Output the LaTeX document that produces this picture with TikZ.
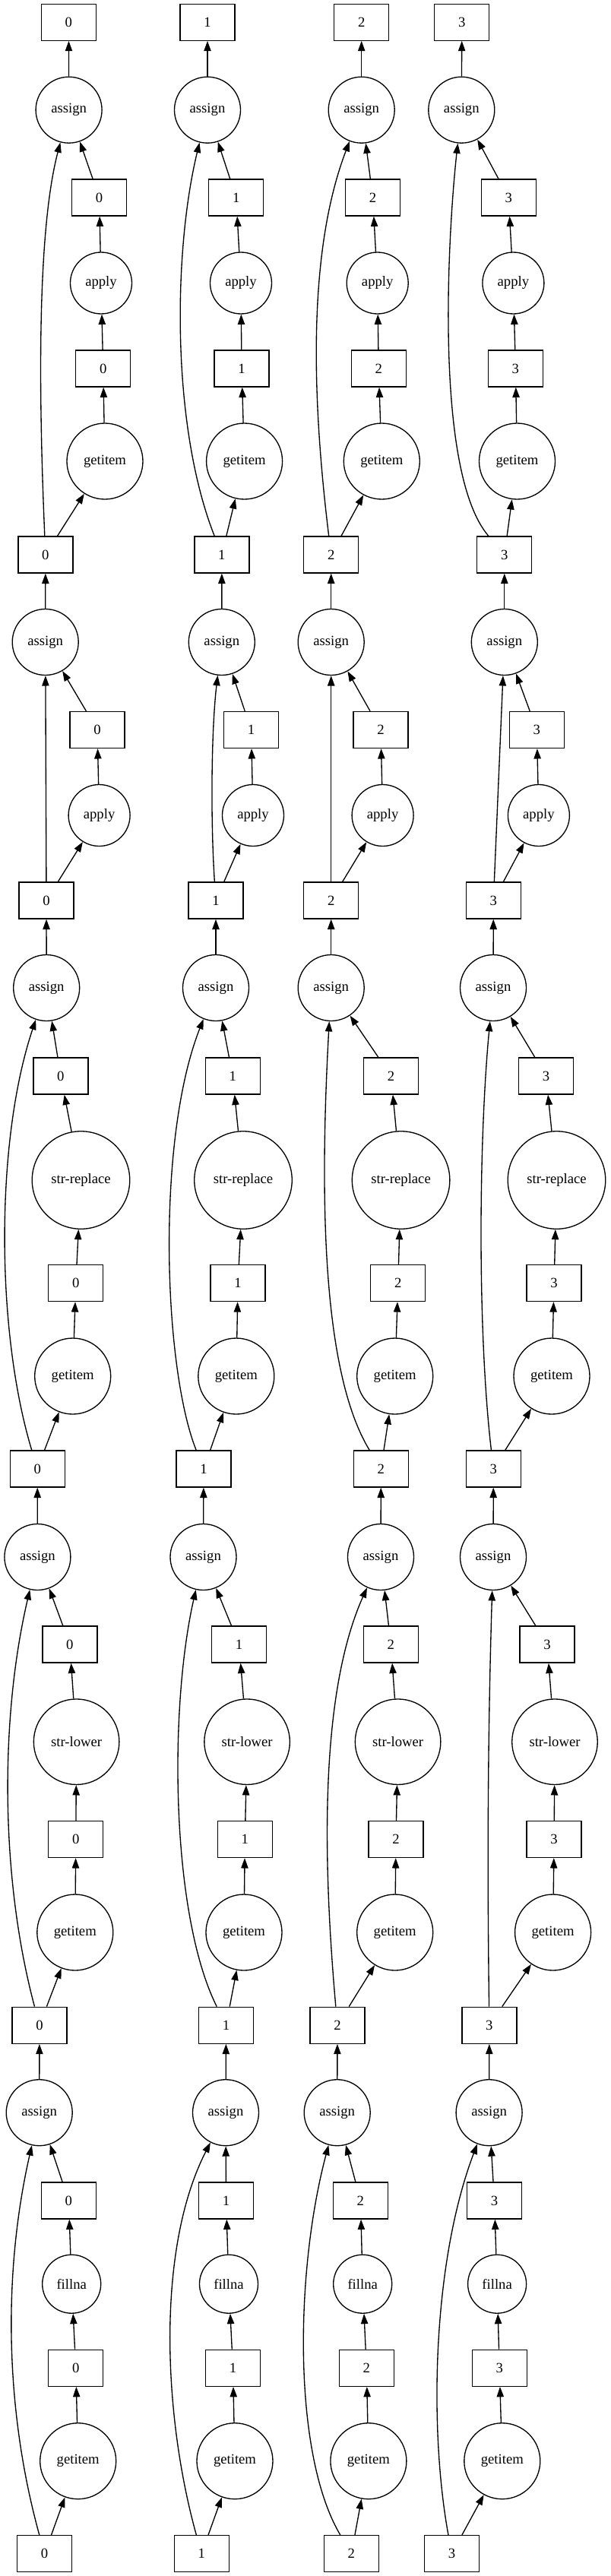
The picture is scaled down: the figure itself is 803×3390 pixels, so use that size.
\documentclass[tikz,border=0pt]{standalone}
\usepackage{fontspec}
\setmainfont{Liberation Serif}
\usepackage{tikz}
\usetikzlibrary{arrows.meta}

\begin{document}
\begin{tikzpicture}[
			x=0.75pt, y=-0.75pt,
			every node/.style={font=\fontsize{14}{16}\selectfont, line width=1pt},
			box/.style={draw, rectangle, minimum width=54pt, minimum height=36pt, inner sep=0pt},
			fn/.style={draw, circle, inner sep=0pt},
			edge/.style={-{Triangle[length=10pt,width=7pt]}, line width=1pt}
			]

			\def\ry{{3360.6,3238.7,3116.3,3005.7,2896,2780.2,2665.2,2543,2420.5,2292.2,2164,2049,1933,1811,1688.6,1553,1416,1300,1185,1073,960.5,845,730,607,485,372.5,260,144.7,29.2}}
			\def\xa{{58.6,102.7,99.8,94.2,90.4,51.7,52,98.8,99.8,100.6,91.9,49.4,49.2,95.7,99.8,106.5,79.9,61.2,61,130.6,128,59.7,59.9,138,135.7,133,130.6,90.6,90.4}}
			\def\xb{{265.2,309,306.5,301,297.5,297,297.5,321,322.3,325.1,314.6,267.5,268,310.8,313.1,320,306.2,284,284,333,330.5,291.8,291.9,321.6,318,317,310.8,273,273}}
			\def\xc{{462.4,484.9,482.3,477.2,474.4,443.7,444,519.7,521,523.6,514.3,501,501.3,519.7,523.8,527.6,514.6,435.7,435.7,503.6,501,435.7,435.7,502.3,498.2,496.7,490.5,475.7,475.7}}
			\def\xd{{594.5,660.8,657.2,654.1,650.5,643.6,643.9,727.6,729.1,730,720,649,649.3,726,729.1,732.5,718.6,649,649.3,708.9,706.3,663.8,663.8,680.5,678.4,675.4,669.2,607.3,607.8}}

			\useasboundingbox (0,0) rectangle (803,3390);

			\foreach \i/\xs in {0/\xa,1/\xb,2/\xc,3/\xd}{
				\foreach \r in {0,2,...,28}{
					\pgfmathsetmacro{\px}{\xs[\r]}
					\pgfmathsetmacro{\py}{\ry[\r]}
					\node[box] (n\i-\r) at (\px,\py) {\i};
				}
				\foreach \r/\lab/\d in {1/getitem/75,3/fillna/57.75,5/assign/65.25,7/getitem/75,9/str-lower/84.4,11/assign/65.25,13/getitem/75,15/str-replace/96.4,17/assign/65.25,19/apply/60.75,21/assign/65.25,23/getitem/75,25/apply/60.75,27/assign/65.25}{
					\pgfmathsetmacro{\px}{\xs[\r]}
					\pgfmathsetmacro{\py}{\ry[\r]}
					\node[fn, minimum size=\d pt] (n\i-\r) at (\px,\py) {\lab};
				}
			}

			\foreach \i in {0,...,3}{
				\foreach \r [count=\s from 1] in {0,...,27}
					\draw[edge] (n\i-\r) -- (n\i-\s);
			}

			\draw[edge] (n0-0) .. controls (6,3170) and (4,2990) .. (n0-5);
			\draw[edge] (n1-0) .. controls (215,3180) and (205,2960) .. (n1-5);
			\draw[edge] (n2-0) .. controls (385,3230) and (388,2990) .. (n2-5);
			\draw[edge] (n3-0) .. controls (565,3200) and (568,2980) .. (n3-5);

			\draw[edge] (n0-6) .. controls (0,2470) and (0,2260) .. (n0-11);
			\draw[edge] (n1-6) .. controls (225,2520) and (222,2250) .. (n1-11);
			\draw[edge] (n2-6) .. controls (425,2450) and (420,2230) .. (n2-11);
			\draw[edge] (n3-6) .. controls (641,2450) and (642,2280) .. (n3-11);

			\draw[edge] (n0-12) .. controls (-6,1750) and (-6,1500) .. (n0-17);
			\draw[edge] (n1-12) .. controls (215,1800) and (205,1500) .. (n1-17);
			\draw[edge] (n2-12) .. controls (420,1800) and (422,1550) .. (n2-17);
			\draw[edge] (n3-12) .. controls (628,1750) and (630,1500) .. (n3-17);

			\draw[edge] (n0-18) -- (n0-21);
			\draw[edge] (n1-18) .. controls (277,1080) and (278,960) .. (n1-21);
			\draw[edge] (n2-18) -- (n2-21);
			\draw[edge] (n3-18) -- (n3-21);

			\draw[edge] (n0-22) .. controls (50,500) and (50,300) .. (n0-27);
			\draw[edge] (n1-22) .. controls (225,560) and (228,330) .. (n1-27);
			\draw[edge] (n2-22) .. controls (410,520) and (405,330) .. (n2-27);
			\draw[edge] (n3-22) .. controls (570,620) and (590,300) .. (n3-27);

\end{tikzpicture}
\end{document}
